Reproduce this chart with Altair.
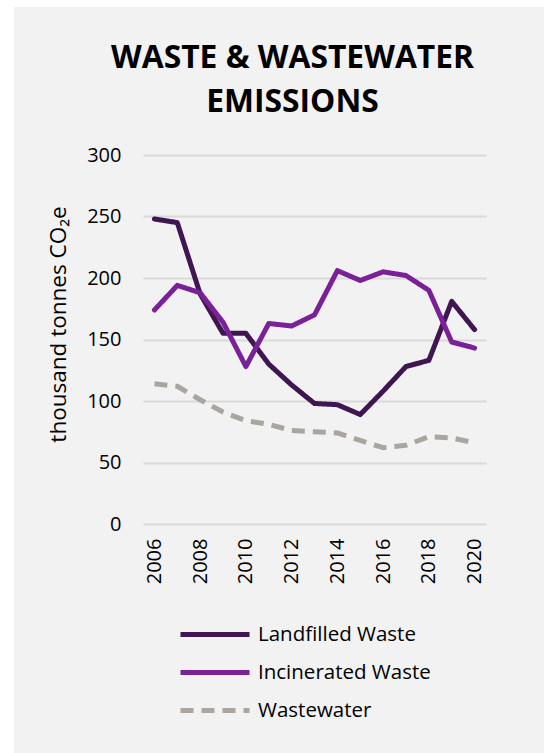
import altair as alt
import pandas as pd

# Emissions by source, thousand tonnes CO2e
years = list(range(2006, 2021))
landfilled = [248, 245, 187, 155, 155, 130, 113, 98, 97, 89, 108, 128, 133, 181, 158]
incinerated = [174, 194, 188, 164, 128, 163, 161, 170, 206, 198, 205, 202, 190, 148, 143]
wastewater = [114, 112, 101, 91, 84, 81, 76, 75, 74, 68, 62, 64, 71, 70, 66]

series_names = ["Landfilled Waste", "Incinerated Waste", "Wastewater"]
series_colors = ["#3f1552", "#7a2199", "#aaa59f"]
series_dash = [[1, 0], [1, 0], [13, 8]]
year_ticks = [2006, 2008, 2010, 2012, 2014, 2016, 2018, 2020]
y_ticks = [0, 50, 100, 150, 200, 250, 300]

rows = []
for name, vals in zip(series_names, [landfilled, incinerated, wastewater]):
    for yr, v in zip(years, vals):
        rows.append({"year": yr, "value": v, "series": name})
df = pd.DataFrame(rows)

FONT = "Open Sans"
W, H = 343, 369

# thin white margin along the left and top of the grey card
margin = pd.DataFrame({"m": [0]})
left_strip = alt.Chart(margin).mark_rect(color="#ffffff").encode(
    x=alt.value(-143), x2=alt.value(-129), y=alt.value(-155), y2=alt.value(598)
)
top_strip = alt.Chart(margin).mark_rect(color="#ffffff").encode(
    x=alt.value(-143), x2=alt.value(401), y=alt.value(-155), y2=alt.value(-148)
)

x_enc = alt.X(
    "year:O",
    scale=alt.Scale(padding=0.5),
    axis=alt.Axis(
        values=year_ticks, labelAngle=270, ticks=False, domain=False,
        labelPadding=14, labelFontSize=20, labelColor="#000000",
        labelFont=FONT, title=None,
    ),
)
y_enc = alt.Y(
    "value:Q",
    scale=alt.Scale(domain=[0, 300]),
    axis=alt.Axis(
        values=y_ticks, ticks=False, domain=False, grid=True,
        gridColor="#d9d9d9", gridWidth=2, labelPadding=22,
        labelFontSize=20, labelColor="#000000", labelFont=FONT,
        title="thousand tonnes CO\u2082e", titleFont=FONT, titleFontSize=22.5,
        titleFontWeight="normal", titleColor="#000000",
        titleX=-85, titleY=169, titleAlign="center", titleBaseline="middle",
    ),
)
color_enc = alt.Color(
    "series:N",
    scale=alt.Scale(domain=series_names, range=series_colors),
    title=None,
    legend=alt.Legend(
        orient="none", legendX=35, legendY=469, direction="vertical",
        symbolType="stroke", symbolSize=4761, symbolStrokeWidth=5,
        labelFont=FONT, labelFontSize=20.5, labelColor="#000000",
        labelOffset=6, labelLimit=400, rowPadding=17, clipHeight=21,
    ),
)
dash_enc = alt.StrokeDash(
    "series:N",
    scale=alt.Scale(domain=series_names, range=series_dash),
    title=None,
)

base = alt.Chart(df).encode(x=x_enc, y=y_enc, color=color_enc, strokeDash=dash_enc)

solid = base.transform_filter(alt.datum.series != "Wastewater").mark_line(
    strokeWidth=5, strokeCap="round", strokeJoin="round"
)
dashed = base.transform_filter(alt.datum.series == "Wastewater").mark_line(
    strokeWidth=5, strokeCap="butt", strokeJoin="round"
)

chart = alt.layer(left_strip, top_strip, dashed, solid).properties(
    width=W,
    height=H,
    background="#f2f2f2",
    padding={"left": 143, "top": 155, "right": 58, "bottom": 229},
    autosize=alt.AutoSizeParams(type="none"),
    title=alt.TitleParams(
        text=["WASTE & WASTEWATER", "EMISSIONS"],
        font=FONT, fontSize=31.8, fontWeight="bold", color="#000000",
        anchor="middle", frame="group", dx=-22, lineHeight=44, offset=-119,
    ),
).configure_view(stroke=None)

chart.save("out.html", embed_options={"renderer": "svg", "actions": False})
